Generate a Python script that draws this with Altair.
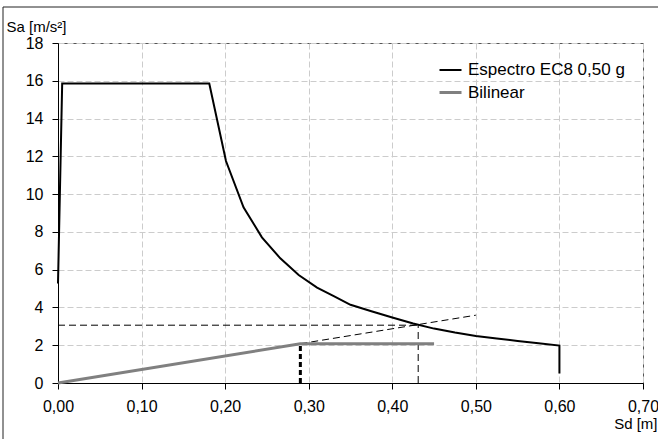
import altair as alt
import pandas as pd

# Elastic response spectrum in ADRS format (Sd in m, Sa in m/s2)
spec_sd = [0.000, 0.005, 0.181, 0.201, 0.222, 0.244, 0.266, 0.288, 0.310, 0.330,
           0.350, 0.375, 0.400, 0.425, 0.450, 0.475, 0.500, 0.525, 0.550, 0.575,
           0.600, 0.600]
spec_sa = [5.27, 15.85, 15.85, 11.75, 9.30, 7.71, 6.60, 5.72, 5.05, 4.60,
           4.14, 3.80, 3.47, 3.15, 2.88, 2.67, 2.49, 2.36, 2.22, 2.10,
           1.98, 0.50]

# Bilinear idealisation of the capacity curve
bil_sd = [0.0, 0.29, 0.45]
bil_sa = [0.0, 2.08, 2.08]

# Construction lines: elastic branch extension and performance point
ext_sd = [0.29, 0.50]
ext_sa = [2.08, 3.59]
perf_sd = 0.431
perf_sa = 3.06
yield_sd = 0.29
yield_sa = 2.08

series_names = ["Espectro EC8 0,50 g", "Bilinear"]
x_ticks = [0.0, 0.1, 0.2, 0.3, 0.4, 0.5, 0.6, 0.7]
y_ticks = [0, 2, 4, 6, 8, 10, 12, 14, 16, 18]

FONT = "Liberation Sans"

curves = pd.DataFrame(
    [{"sd": x, "sa": y, "serie": series_names[0], "idx": i}
     for i, (x, y) in enumerate(zip(spec_sd, spec_sa))]
    + [{"sd": x, "sa": y, "serie": series_names[1], "idx": i}
       for i, (x, y) in enumerate(zip(bil_sd, bil_sa))]
)

ext_df = pd.DataFrame({"sd": ext_sd, "sa": ext_sa})
hline_df = pd.DataFrame({"sd": [0.0], "sd2": [perf_sd], "sa": [perf_sa]})
vline_df = pd.DataFrame({"sd": [perf_sd], "sa": [0.0], "sa2": [perf_sa]})
yline_df = pd.DataFrame({"sd": [yield_sd], "sa": [0.0], "sa2": [yield_sa]})

x_scale = alt.Scale(domain=[0, 0.7], nice=False, zero=True)
y_scale = alt.Scale(domain=[0, 18], nice=False)

x_axis = alt.Axis(
    values=x_ticks,
    labelExpr="replace(format(datum.value, '.2f'), '.', ',')",
    labelFlush=False, labelOverlap=False,
    title="Sd [m]",
    titleX=599, titleY=45, titleAlign="right", titleBaseline="alphabetic",
    labelPadding=9,
)
y_axis = alt.Axis(
    values=y_ticks,
    format="d",
    labelFlush=False, labelOverlap=False,
    title="Sa [m/s²]",
    titleAngle=0, titleX=-52, titleY=-12, titleAlign="left",
    titleBaseline="alphabetic",
    labelPadding=9,
)

X = alt.X("sd:Q", scale=x_scale, axis=x_axis)
Y = alt.Y("sa:Q", scale=y_scale, axis=y_axis)

legend = alt.Legend(
    title=None, orient="none", legendX=380, legendY=15,
    symbolType="stroke", symbolSize=484, labelFontSize=17, labelFont=FONT,
    labelColor="#000000",
    labelOffset=5, rowPadding=2, padding=0, labelLimit=400,
)

lines = alt.Chart(curves).mark_line(strokeCap="butt").encode(
    x=X, y=Y,
    color=alt.Color("serie:N", sort=series_names,
                    scale=alt.Scale(domain=series_names, range=["#000000", "#808080"]),
                    legend=legend),
    strokeWidth=alt.StrokeWidth("serie:N", sort=series_names,
                                scale=alt.Scale(domain=series_names, range=[2, 3]),
                                legend=legend),
    order="idx:Q",
)

thin = dict(color="#000000", strokeWidth=1, strokeDash=[7, 4])

ext = alt.Chart(ext_df).mark_line(**thin).encode(x=X, y=Y)
hline = alt.Chart(hline_df).mark_rule(**thin).encode(x=X, x2="sd2:Q", y=Y)
vline = alt.Chart(vline_df).mark_rule(**thin).encode(x=X, y=Y, y2="sa2:Q")
yline = alt.Chart(yline_df).mark_rule(color="#000000", strokeWidth=3,
                                      strokeDash=[5, 3]).encode(
    x=X, y=Y, y2="sa2:Q")

# outer frame of the chart area
frame_left = alt.Chart().mark_rule(color="#222222", strokeWidth=1).encode(
    x=alt.value(-55), y=alt.value(-36), y2=alt.value(500))
frame_top = alt.Chart().mark_rule(color="#222222", strokeWidth=1).encode(
    x=alt.value(-55), x2=alt.value(700), y=alt.value(-36))

chart = alt.layer(
    ext, hline, vline, yline, lines, frame_left, frame_top
).properties(
    width=585, height=340,
    autosize=alt.AutoSizeParams(type="none"),
    padding={"left": 58, "top": 43, "right": 15, "bottom": 56},
    background="white",
).configure_axis(
    labelFont=FONT, titleFont=FONT, labelFontSize=16, titleFontSize=15,
    labelColor="#000000", titleColor="#000000", titleFontWeight="normal",
    domainColor="#000000", domainWidth=1, tickColor="#000000", tickSize=6,
    gridColor="#cccccc", gridDash=[6, 3], gridWidth=1,
).configure_view(
    stroke="#555555", strokeWidth=1,
)

chart.save("out.html", embed_options={"renderer": "svg", "actions": False})
